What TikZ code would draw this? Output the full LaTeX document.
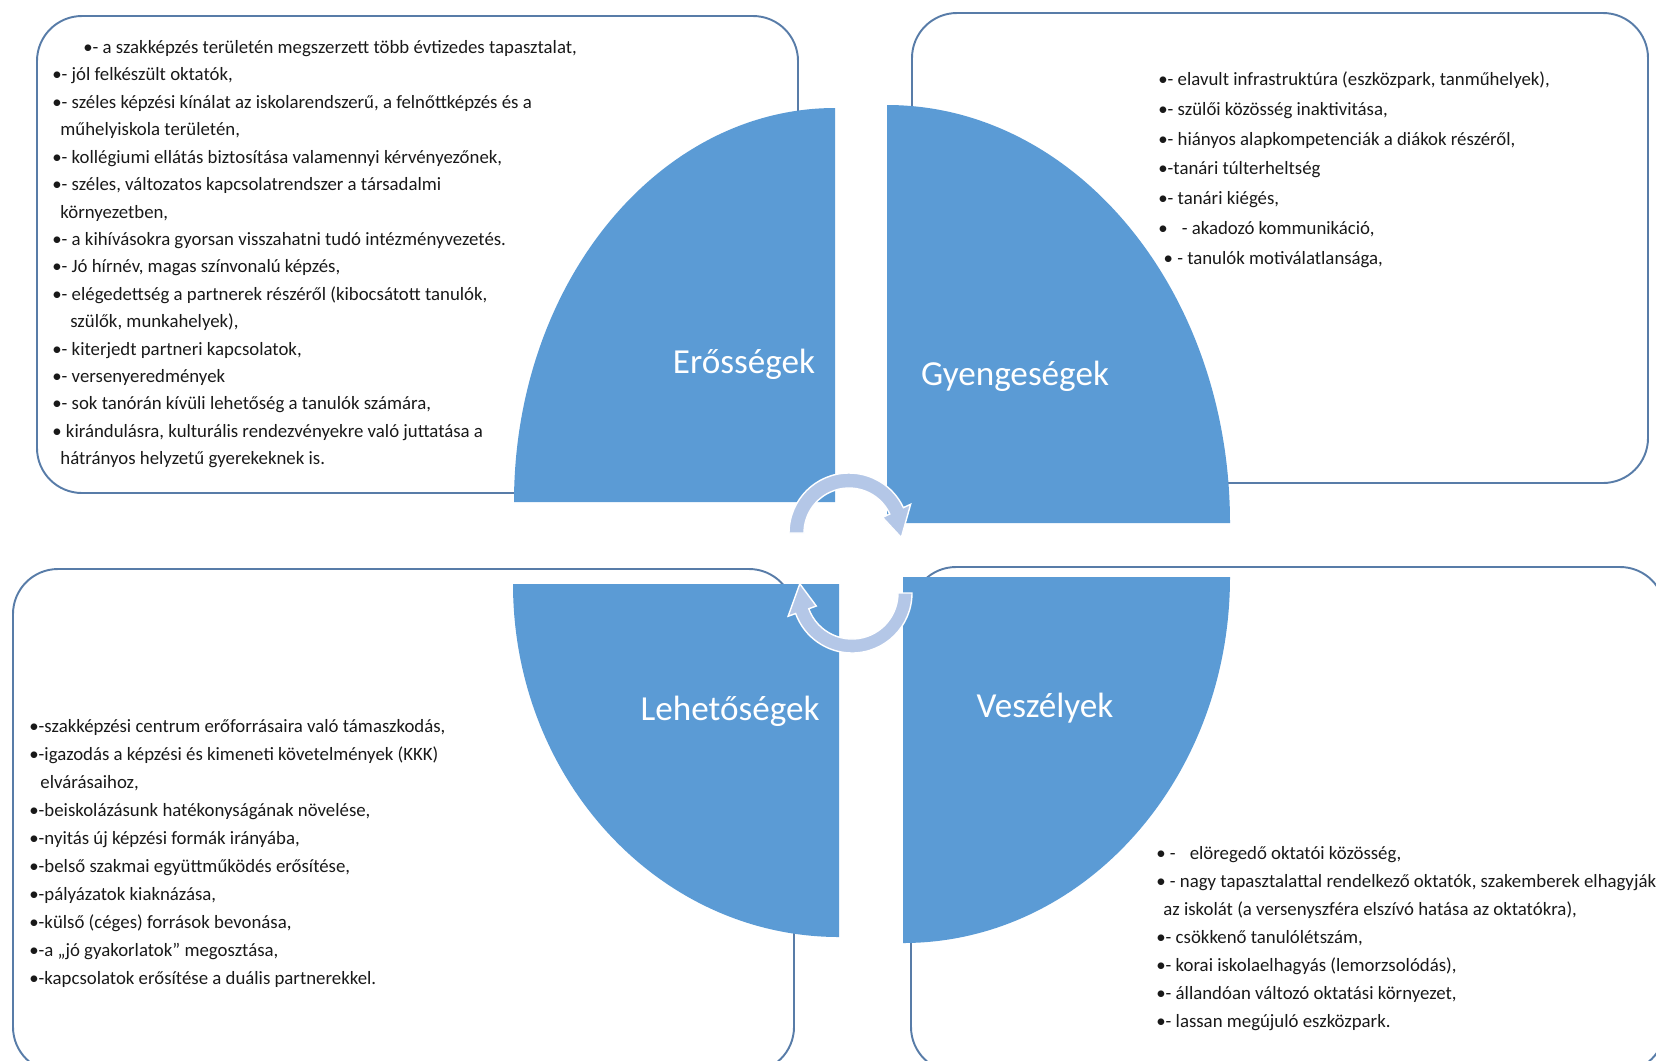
\documentclass[tikz,border=0pt]{standalone}
\usepackage{fontspec}
\setmainfont{Carlito}
\definecolor{quadblue}{RGB}{91,155,213}
\definecolor{boxline}{RGB}{88,124,168}
\definecolor{cyclecol}{RGB}{180,199,231}

\tikzset{
  listbox/.style={draw=boxline, line width=1.1pt, rounded corners=0.9cm},
  quad/.style={fill=quadblue},
  quadlabel/.style={text=white, anchor=base, inner sep=0pt, font=\fontsize{20}{24}\selectfont},
  listtext/.style={anchor=north west, inner sep=0pt, align=left, text=black!90, font=\fontsize{10.7}{15.9}\selectfont},
  cyclearrow/.style={fill=cyclecol, draw=white, line width=0.8pt}
}

\begin{document}
\begin{tikzpicture}[x=0.2mm, y=-0.2mm]
\useasboundingbox (0,0) rectangle (1656,1060);

% frames of the four lists
\draw[listbox] (37,16) rectangle (798,493);
\draw[listbox] (912,13) rectangle (1648,483);
\draw[listbox] (13,569) rectangle (794,1072);
\draw[listbox] (911,567) rectangle (1665,1072);

% the four quarters
\fill[quad] (835,502) -- (514,502) arc[start angle=180, end angle=270, x radius=321, y radius=394] -- cycle;
\fill[quad] (887,523) -- (887,105) arc[start angle=270, end angle=360, x radius=343, y radius=418] -- cycle;
\fill[quad] (839,584) -- (513,584) arc[start angle=180, end angle=90, x radius=326, y radius=353] -- cycle;
\fill[quad] (903,577) -- (1230,577) arc[start angle=0, end angle=90, x radius=327, y radius=366] -- cycle;

\node[quadlabel] (erossegek) at (744,373) {Erősségek};
\node[quadlabel] (gyengesegek) at (1015,385) {Gyengeségek};
\node[quadlabel] (lehetosegek) at (730,720) {Lehetőségek};
\node[quadlabel] (veszelyek) at (1045,717) {Veszélyek};

% cycle arrows in the middle
\begin{scope}[shift={(849,533)}]
  \filldraw[cyclearrow] (180:60) arc[start angle=180, end angle=335, radius=60] -- (335:68) -- (5:52.5)
    -- (335:37) -- (335:45) arc[start angle=335, end angle=180, radius=45] -- cycle;
\end{scope}
\begin{scope}[shift={(852,593)}]
  \filldraw[cyclearrow] (0:60) arc[start angle=0, end angle=160, radius=60] -- (160:68) -- (190:53)
    -- (160:38) -- (160:46) arc[start angle=160, end angle=0, radius=46] -- cycle;
\end{scope}

% lists
\node[listtext, font=\fontsize{10.7}{15.6}\selectfont] (erossegek-list) at (52,34) {%
\strut\hspace*{17.6pt}•- a szakképzés területén megszerzett több évtizedes tapasztalat,\\
•- jól felkészült oktatók,\\
•- széles képzési kínálat az iskolarendszerű, a felnőttképzés és a\\
\hspace*{4.6pt}műhelyiskola területén,\\
•- kollégiumi ellátás biztosítása valamennyi kérvényezőnek,\\
•- széles, változatos kapcsolatrendszer a társadalmi\\
\hspace*{4.6pt}környezetben,\\
•- a kihívásokra gyorsan visszahatni tudó intézményvezetés.\\
•- Jó hírnév, magas színvonalú képzés,\\
•- elégedettség a partnerek részéről (kibocsátott tanulók,\\
\hspace*{10.2pt}szülők, munkahelyek),\\
•- kiterjedt partneri kapcsolatok,\\
•- versenyeredmények\\
•- sok tanórán kívüli lehetőség a tanulók számára,\\
• kirándulásra, kulturális rendezvényekre való juttatása a\\
\hspace*{4.6pt}hátrányos helyzetű gyerekeknek is.};

\node[listtext, font=\fontsize{10.7}{17}\selectfont] (gyengesegek-list) at (1158,64) {%
\strut•- elavult infrastruktúra (eszközpark, tanműhelyek),\\
•- szülői közösség inaktivitása,\\
•- hiányos alapkompetenciák a diákok részéről,\\
•-tanári túlterheltség\\
•- tanári kiégés,\\
•\hspace{8pt}- akadozó kommunikáció,\\
\hspace*{3pt}• - tanulók motiválatlansága,};

\node[listtext] (lehetosegek-list) at (29,713) {%
\strut•-szakképzési centrum erőforrásaira való támaszkodás,\\
•-igazodás a képzési és kimeneti követelmények (KKK)\\
\hspace*{6.3pt}elvárásaihoz,\\
•-beiskolázásunk hatékonyságának növelése,\\
•-nyitás új képzési formák irányába,\\
•-belső szakmai együttműködés erősítése,\\
•-pályázatok kiaknázása,\\
•-külső (céges) források bevonása,\\
•-a „jó gyakorlatok” megosztása,\\
•-kapcsolatok erősítése a duális partnerekkel.};

\node[listtext] (veszelyek-list) at (1156,840) {%
\strut• -\hspace{8pt}elöregedő oktatói közösség,\\
• - nagy tapasztalattal rendelkező oktatók, szakemberek elhagyják\\
\hspace*{4pt}az iskolát (a versenyszféra elszívó hatása az oktatókra),\\
•- csökkenő tanulólétszám,\\
•- korai iskolaelhagyás (lemorzsolódás),\\
•- állandóan változó oktatási környezet,\\
•- lassan megújuló eszközpark.};
\end{tikzpicture}
\end{document}
